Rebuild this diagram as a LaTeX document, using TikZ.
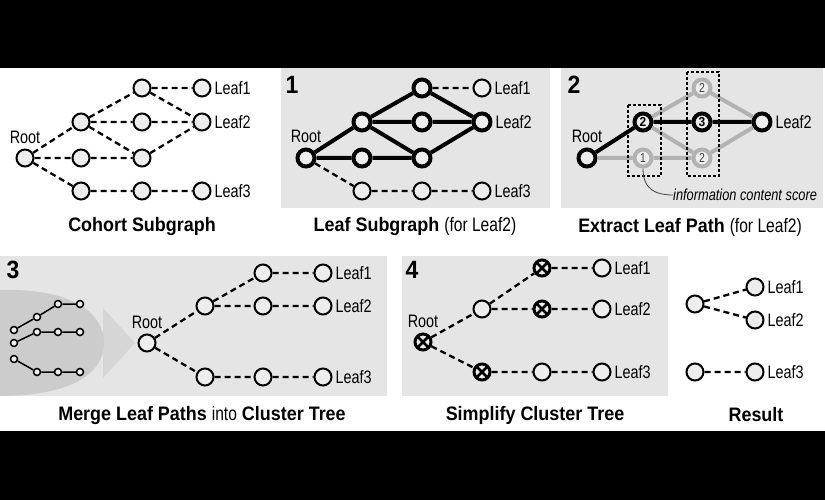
\documentclass[tikz,border=0pt]{standalone}
\usepackage{fontspec}
\setmainfont{Liberation Sans}[UprightFeatures={FakeStretch=0.8},BoldFeatures={FakeStretch=0.92},ItalicFeatures={FakeStretch=0.8}]
\usetikzlibrary{positioning}

\definecolor{panelbg}{gray}{0.9}
\definecolor{nodefill}{gray}{0.93}
\definecolor{blobbg}{gray}{0.8}
\definecolor{arrowbg}{gray}{0.84}
\definecolor{pathgray}{gray}{0.7}

\begin{document}
\begin{tikzpicture}[x=1pt,y=-1pt,
    nd/.style={circle,draw,line width=2pt,fill=nodefill,minimum size=17pt,inner sep=0pt},
    thk/.style={nd,line width=4pt,minimum size=17pt},
    gry/.style={nd,draw=pathgray,line width=4pt,minimum size=17pt,text=black!75,font=\fontsize{13}{13}\selectfont},
    blk/.style={thk,font=\fontsize{13}{13}\selectfont\bfseries},
    xnd/.style={nd,line width=3pt,minimum size=16pt,path picture={
        \draw[line width=2.5pt] (path picture bounding box.south west) -- (path picture bounding box.north east)
          (path picture bounding box.north west) -- (path picture bounding box.south east);}},
    sm/.style={circle,draw,line width=1.5pt,fill=nodefill,minimum size=7pt,inner sep=0pt},
    lbl/.style={font=\fontsize{18}{20}\selectfont,inner sep=0pt},
    ttl/.style={font=\fontsize{19.5}{22}\selectfont\bfseries,inner sep=0pt},
    num/.style={font=\fontsize{25}{25}\selectfont\bfseries,inner sep=0pt},
    dsh/.style={line width=2.3pt,dash pattern=on 6pt off 4pt},
    thkline/.style={line width=4pt},
    grline/.style={line width=4pt,draw=pathgray}]

    % frame and panels
    \fill[black] (0,0) rectangle (825,500);
    \fill[white] (0,68) rectangle (825,431);
    \fill[panelbg] (281,68) rectangle (550,208);
    \fill[panelbg] (561,68) rectangle (823,208);
    \fill[panelbg] (0,256) rectangle (387,396);
    \fill[panelbg] (402,256) rectangle (668,396);
    \fill[arrowbg] (103,308) -- (135,343) -- (103,378) -- cycle;
    \fill[blobbg] (0,290) .. controls (70,288) and (104,312) .. (104,343)
      .. controls (104,374) and (70,396) .. (0,396) -- cycle;

    % cohort subgraph
    \node[nd] (r0) at (25,158) {};
    \node[nd] (a1) at (81,122) {};
    \node[nd] (a2) at (81,158) {};
    \node[nd] (a3) at (81,191) {};
    \node[nd] (b1) at (142,88) {};
    \node[nd] (b2) at (142,122) {};
    \node[nd] (b3) at (142,158) {};
    \node[nd] (b4) at (142,191) {};
    \node[nd] (c1) at (202,88) {};
    \node[nd] (c2) at (202,122) {};
    \node[nd] (c3) at (202,191) {};
    \node[lbl,above=5pt of r0] (r0lbl) {Root};
    \node[lbl,right=3pt of c1] (c1lbl) {Leaf1};
    \node[lbl,right=3pt of c2] (c2lbl) {Leaf2};
    \node[lbl,right=3pt of c3] (c3lbl) {Leaf3};
    \draw[dsh] (r0) -- (a1) (r0) -- (a2) (r0) -- (a3)
      (a1) -- (b1) (a1) -- (b2) (a1) -- (b3) (a2) -- (b3) (a3) -- (b4)
      (b1) -- (c1) (b1) -- (c2) (b2) -- (c2) (b3) -- (c2) (b4) -- (c3);
    \node[ttl] (t0) at (142,227) {Cohort Subgraph};

    % 1: leaf subgraph
    \node[num] (n1) at (292,85) {1};
    \node[thk] (p1r) at (306,158) {};
    \node[thk] (p1a1) at (362,122) {};
    \node[thk] (p1a2) at (362,158) {};
    \node[nd] (p1a3) at (362,191) {};
    \node[thk] (p1b1) at (422,88) {};
    \node[thk] (p1b2) at (422,122) {};
    \node[thk] (p1b3) at (422,158) {};
    \node[nd] (p1b4) at (422,191) {};
    \node[nd] (p1c1) at (482,88) {};
    \node[thk] (p1c2) at (482,122) {};
    \node[nd] (p1c3) at (482,191) {};
    \node[lbl,above=5pt of p1r] (p1rlbl) {Root};
    \node[lbl,right=3pt of p1c1] (p1c1lbl) {Leaf1};
    \node[lbl,right=3pt of p1c2] (p1c2lbl) {Leaf2};
    \node[lbl,right=3pt of p1c3] (p1c3lbl) {Leaf3};
    \draw[thkline] (p1r) -- (p1a1) (p1r) -- (p1a2)
      (p1a1) -- (p1b1) (p1a1) -- (p1b2) (p1a1) -- (p1b3) (p1a2) -- (p1b3)
      (p1b1) -- (p1c2) (p1b2) -- (p1c2) (p1b3) -- (p1c2);
    \draw[dsh] (p1b1) -- (p1c1) (p1r) -- (p1a3) (p1a3) -- (p1b4) (p1b4) -- (p1c3);
    \node[ttl] (t1) at (415,227) {Leaf Subgraph \textmd{(for Leaf2)}};

    % 2: extract leaf path
    \node[num] (n2) at (574,85) {2};
    \node[thk] (p2r) at (587,158) {};
    \node[blk] (p2a1) at (643,122) {2};
    \node[gry] (p2a2) at (643,158) {1};
    \node[gry] (p2b1) at (702,88) {2};
    \node[blk] (p2b2) at (702,122) {3};
    \node[gry] (p2b3) at (702,158) {2};
    \node[thk] (p2c) at (762,122) {};
    \node[lbl,above=5pt of p2r] (p2rlbl) {Root};
    \node[lbl,right=3pt of p2c] (p2clbl) {Leaf2};
    \draw[grline] (p2r) -- (p2a2) (p2a2) -- (p2b3) (p2a1) -- (p2b1) (p2a1) -- (p2b3)
      (p2b1) -- (p2c) (p2b3) -- (p2c);
    \draw[thkline] (p2r) -- (p2a1) (p2a1) -- (p2b2) (p2b2) -- (p2c);
    \draw[line width=1.2pt,dash pattern=on 3pt off 2pt] (628,105) rectangle (661,176);
    \draw[line width=1.2pt,dash pattern=on 3pt off 2pt] (687,72) rectangle (719,176);
    \node[font=\fontsize{16}{18}\selectfont\itshape,inner sep=0pt,anchor=west] (info) at (673,195) {information content score};
    \draw[line width=0.8pt,black!75] (p2a2.south) .. controls +(0,22) and +(-16,0) .. (info.west);
    \node[ttl] (t2) at (690,227) {Extract Leaf Path \textmd{(for Leaf2)}};

    % 3: merge leaf paths
    \node[num] (n3) at (13,270) {3};
    \node[sm] (m11) at (14,330) {};
    \node[sm] (m12) at (37,317) {};
    \node[sm] (m13) at (58,304) {};
    \node[sm] (m14) at (80,304) {};
    \node[sm] (m21) at (14,343) {};
    \node[sm] (m22) at (37,332) {};
    \node[sm] (m23) at (58,332) {};
    \node[sm] (m24) at (80,332) {};
    \node[sm] (m31) at (14,359) {};
    \node[sm] (m32) at (37,372) {};
    \node[sm] (m33) at (58,372) {};
    \node[sm] (m34) at (80,372) {};
    \draw[line width=1.5pt] (m11) -- (m12) -- (m13) -- (m14)
      (m21) -- (m22) -- (m23) -- (m24) (m31) -- (m32) -- (m33) -- (m34);
    \node[nd] (p3r) at (147,343) {};
    \node[nd] (p3a1) at (205,306) {};
    \node[nd] (p3a2) at (205,377) {};
    \node[nd] (p3b1) at (263,273) {};
    \node[nd] (p3b2) at (263,306) {};
    \node[nd] (p3b3) at (263,377) {};
    \node[nd] (p3c1) at (323,273) {};
    \node[nd] (p3c2) at (323,306) {};
    \node[nd] (p3c3) at (323,377) {};
    \node[lbl,above=5pt of p3r] (p3rlbl) {Root};
    \node[lbl,right=3pt of p3c1] (p3c1lbl) {Leaf1};
    \node[lbl,right=3pt of p3c2] (p3c2lbl) {Leaf2};
    \node[lbl,right=3pt of p3c3] (p3c3lbl) {Leaf3};
    \draw[dsh] (p3r) -- (p3a1) (p3r) -- (p3a2) (p3a1) -- (p3b1) (p3a1) -- (p3b2)
      (p3b1) -- (p3c1) (p3b2) -- (p3c2) (p3a2) -- (p3b3) (p3b3) -- (p3c3);
    \node[ttl] (t3) at (202,415) {Merge Leaf Paths \textmd{into} Cluster Tree};

    % 4: simplify cluster tree
    \node[num] (n4) at (412,270) {4};
    \node[xnd] (p4r) at (423,342) {};
    \node[nd] (p4a1) at (482,309) {};
    \node[xnd] (p4a2) at (482,372) {};
    \node[xnd] (p4b1) at (542,268) {};
    \node[xnd] (p4b2) at (542,309) {};
    \node[nd] (p4b3) at (542,372) {};
    \node[nd] (p4c1) at (602,268) {};
    \node[nd] (p4c2) at (602,309) {};
    \node[nd] (p4c3) at (602,372) {};
    \node[lbl,above=5pt of p4r] (p4rlbl) {Root};
    \node[lbl,right=3pt of p4c1] (p4c1lbl) {Leaf1};
    \node[lbl,right=3pt of p4c2] (p4c2lbl) {Leaf2};
    \node[lbl,right=3pt of p4c3] (p4c3lbl) {Leaf3};
    \draw[dsh] (p4r) -- (p4a1) (p4r) -- (p4a2) (p4a1) -- (p4b1) (p4a1) -- (p4b2)
      (p4b1) -- (p4c1) (p4b2) -- (p4c2) (p4a2) -- (p4b3) (p4b3) -- (p4c3);
    \node[ttl] (t4) at (535,415) {Simplify Cluster Tree};

    % result
    \node[nd] (s1) at (695,304) {};
    \node[nd] (s2) at (755,287) {};
    \node[nd] (s3) at (755,320) {};
    \node[nd] (s4) at (695,372) {};
    \node[nd] (s5) at (755,372) {};
    \node[lbl,right=3pt of s2] (s2lbl) {Leaf1};
    \node[lbl,right=3pt of s3] (s3lbl) {Leaf2};
    \node[lbl,right=3pt of s5] (s5lbl) {Leaf3};
    \draw[dsh] (s1) -- (s2) (s1) -- (s3) (s4) -- (s5);
    \node[ttl] (t5) at (756,415) {Result};
\end{tikzpicture}
\end{document}
